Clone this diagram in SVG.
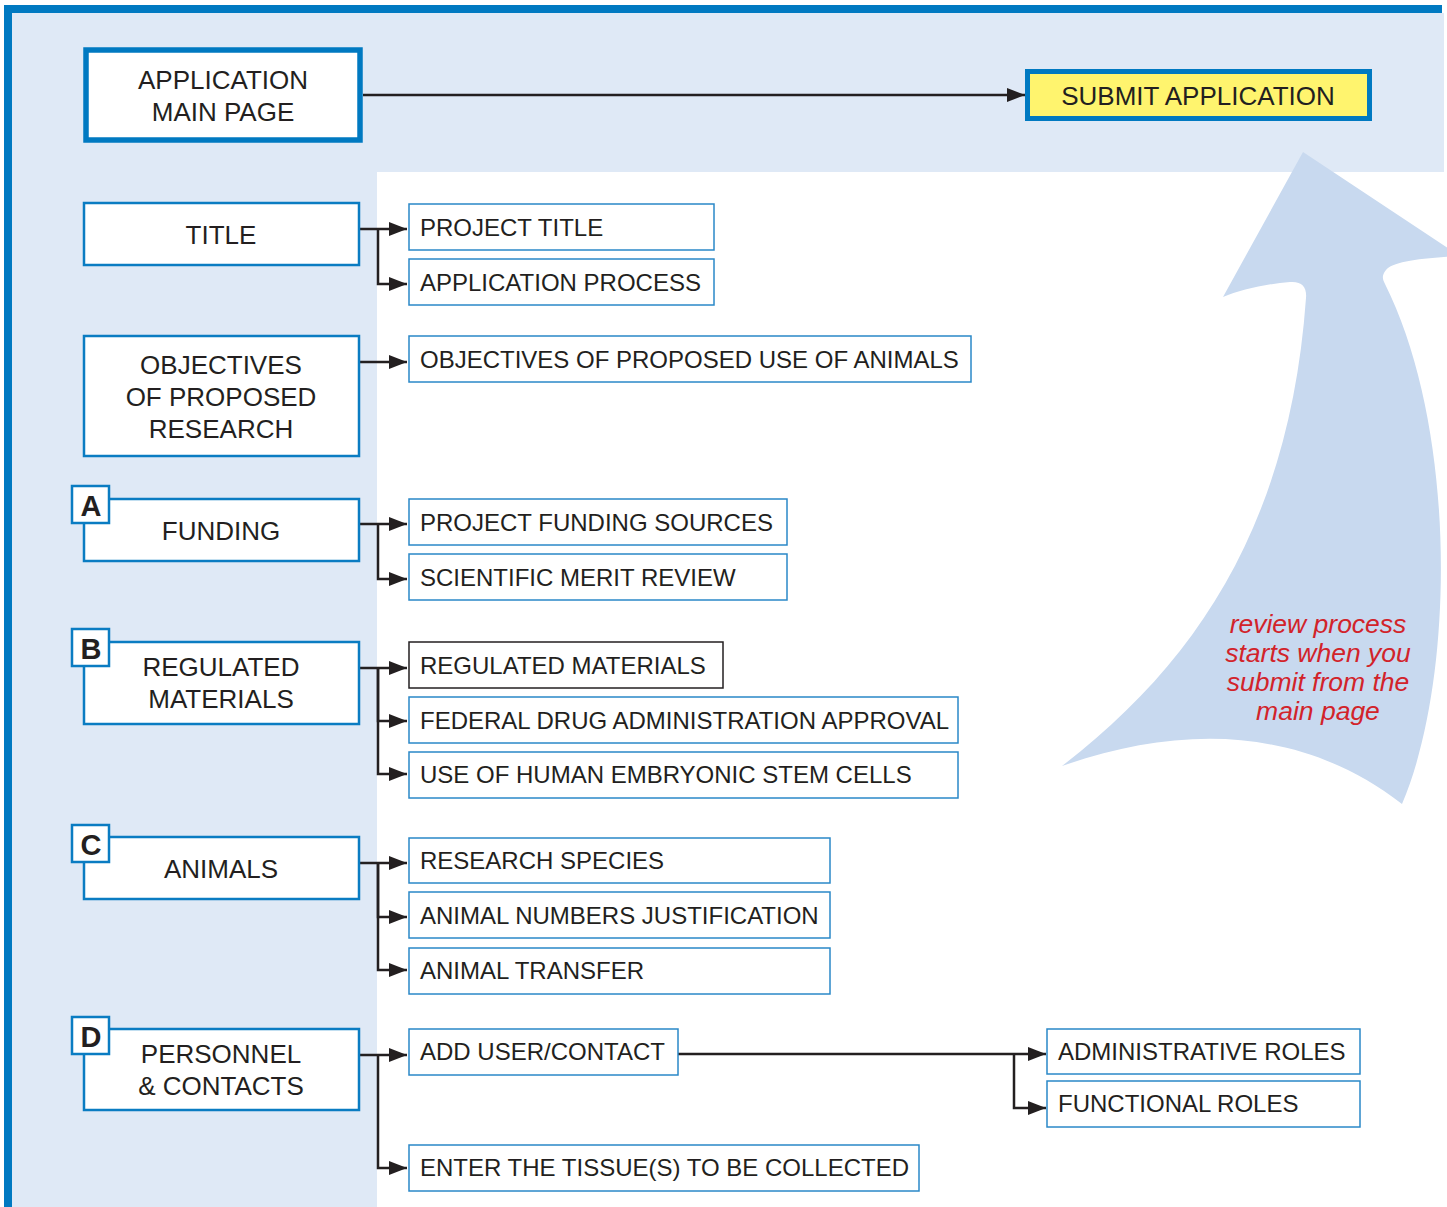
<svg xmlns="http://www.w3.org/2000/svg" width="1447" height="1207" viewBox="0 0 1447 1207">
<defs>
<style>
.lbox{fill:#fff;stroke:#0a7cc2;stroke-width:2.5}
.rbox{fill:#fff;stroke:#2a88c8;stroke-width:1.5}
.badge{fill:#fff;stroke:#0a7cc2;stroke-width:2.5}
.lt{font-family:"Liberation Sans",Arial,sans-serif;font-size:26px;fill:#231f20;text-anchor:middle}
.rt{font-family:"Liberation Sans",Arial,sans-serif;font-size:24px;fill:#231f20}
.bt{font-family:"Liberation Sans",Arial,sans-serif;font-size:29px;font-weight:bold;fill:#231f20;text-anchor:middle}
.note{font-family:"Liberation Sans",Arial,sans-serif;font-size:26.5px;font-style:italic;fill:#d2232a;text-anchor:middle}
.con{fill:none;stroke:#231f20;stroke-width:2.5;marker-end:url(#ah)}
</style>
<marker id="ah" viewBox="0 0 18 14" refX="18" refY="7" markerWidth="18" markerHeight="14" markerUnits="userSpaceOnUse" orient="auto">
<path d="M0,0 L18,7 L0,14 z" fill="#231f20"/>
</marker>
</defs>
<g id="background">
<rect x="0" y="0" width="1447" height="1207" fill="#fff"/>
<path d="M12 13 H1444 V172 H377 V1207 H12 Z" fill="#dfe9f6"/>
<rect x="4" y="5" width="8" height="1202" fill="#0079c1"/>
<rect x="4" y="5" width="1438" height="8" fill="#0079c1"/>
</g>
<g id="review-arrow">
<path d="M1303 152 L1460 256 C1420 258 1392 262 1386 270 C1381 276 1383 280 1385 284 C1458 430 1455 680 1402 804 C1300 725 1180 725 1062 766 C1200 660 1290 520 1306 298 C1307 287 1302 281 1290 282 C1265 284 1240 290 1223 297 Z" fill="#c8d9ef"/>
<text class="note" x="1318" y="633">review process</text>
<text class="note" x="1318" y="662">starts when you</text>
<text class="note" x="1318" y="691">submit from the</text>
<text class="note" x="1318" y="720">main page</text>
</g>
<g id="connectors">
<path class="con" d="M363 95 H1025"/>
<path class="con" d="M360 229 H407"/>
<path class="con" d="M378 229 V284 H407"/>
<path class="con" d="M360 362 H407"/>
<path class="con" d="M360 524 H407"/>
<path class="con" d="M378 524 V579 H407"/>
<path class="con" d="M360 668 H407"/>
<path class="con" d="M378 668 V721 H407"/>
<path class="con" d="M378 668 V774 H407"/>
<path class="con" d="M360 863 H407"/>
<path class="con" d="M378 863 V917 H407"/>
<path class="con" d="M378 863 V970 H407"/>
<path class="con" d="M360 1055 H407"/>
<path class="con" d="M378 1055 V1168 H407"/>
<path class="con" d="M678 1054 H1046"/>
<path class="con" d="M1014 1054 V1108 H1046"/>
</g>
<g id="main-page">
<rect x="86" y="50" width="274" height="90" fill="#fff" stroke="#0079c1" stroke-width="5.5"/>
<text class="lt" x="223" y="89">APPLICATION</text>
<text class="lt" x="223" y="121">MAIN PAGE</text>
</g>
<g id="submit">
<rect x="1027.5" y="71.5" width="342" height="47" fill="#fff46e" stroke="#0079c1" stroke-width="5"/>
<text class="lt" x="1198" y="104.5">SUBMIT APPLICATION</text>
</g>
<g id="title">
<rect class="lbox" x="84" y="203" width="275" height="62"/>
<text class="lt" x="221" y="244">TITLE</text>
</g>
<g id="objectives">
<rect class="lbox" x="84" y="336" width="275" height="120"/>
<text class="lt" x="221" y="374">OBJECTIVES</text>
<text class="lt" x="221" y="406">OF PROPOSED</text>
<text class="lt" x="221" y="438">RESEARCH</text>
</g>
<g id="funding">
<rect class="lbox" x="84" y="499" width="275" height="62"/>
<text class="lt" x="221" y="540">FUNDING</text>
<rect class="badge" x="72" y="486" width="37" height="37"/>
<text class="bt" x="91" y="515.5">A</text>
</g>
<g id="regulated">
<rect class="lbox" x="84" y="642" width="275" height="82"/>
<text class="lt" x="221" y="676">REGULATED</text>
<text class="lt" x="221" y="708">MATERIALS</text>
<rect class="badge" x="72" y="629" width="37" height="37"/>
<text class="bt" x="91" y="658.5">B</text>
</g>
<g id="animals">
<rect class="lbox" x="84" y="837" width="275" height="62"/>
<text class="lt" x="221" y="878">ANIMALS</text>
<rect class="badge" x="72" y="825" width="37" height="37"/>
<text class="bt" x="91" y="854.5">C</text>
</g>
<g id="personnel">
<rect class="lbox" x="84" y="1029" width="275" height="81"/>
<text class="lt" x="221" y="1063">PERSONNEL</text>
<text class="lt" x="221" y="1095">&amp; CONTACTS</text>
<rect class="badge" x="72" y="1017" width="37" height="37"/>
<text class="bt" x="91" y="1046.5">D</text>
</g>
<g id="project-title"><rect class="rbox" x="409" y="204" width="305" height="46"/><text class="rt" x="420" y="235.5">PROJECT TITLE</text></g>
<g id="application-process"><rect class="rbox" x="409" y="259" width="305" height="46"/><text class="rt" x="420" y="290.5">APPLICATION PROCESS</text></g>
<g id="objectives-use"><rect class="rbox" x="409" y="336" width="562" height="46"/><text class="rt" x="420" y="367.5">OBJECTIVES OF PROPOSED USE OF ANIMALS</text></g>
<g id="funding-sources"><rect class="rbox" x="409" y="499" width="378" height="46"/><text class="rt" x="420" y="530.5">PROJECT FUNDING SOURCES</text></g>
<g id="merit-review"><rect class="rbox" x="409" y="554" width="378" height="46"/><text class="rt" x="420" y="585.5">SCIENTIFIC MERIT REVIEW</text></g>
<g id="regulated-materials"><rect x="409" y="642" width="314" height="46" fill="#fff" stroke="#231f20" stroke-width="1.5"/><text class="rt" x="420" y="673.5">REGULATED MATERIALS</text></g>
<g id="fda"><rect class="rbox" x="409" y="697" width="549" height="46"/><text class="rt" x="420" y="728.5">FEDERAL DRUG ADMINISTRATION APPROVAL</text></g>
<g id="stem-cells"><rect class="rbox" x="409" y="752" width="549" height="46"/><text class="rt" x="420" y="782.5">USE OF HUMAN EMBRYONIC STEM CELLS</text></g>
<g id="species"><rect class="rbox" x="409" y="838" width="421" height="45"/><text class="rt" x="420" y="868.5">RESEARCH SPECIES</text></g>
<g id="numbers"><rect class="rbox" x="409" y="892" width="421" height="46"/><text class="rt" x="420" y="923.5">ANIMAL NUMBERS JUSTIFICATION</text></g>
<g id="transfer"><rect class="rbox" x="409" y="948" width="421" height="46"/><text class="rt" x="420" y="978.5">ANIMAL TRANSFER</text></g>
<g id="add-user"><rect class="rbox" x="409" y="1029" width="269" height="46"/><text class="rt" x="420" y="1059.5">ADD USER/CONTACT</text></g>
<g id="tissue"><rect class="rbox" x="409" y="1145" width="510" height="46"/><text class="rt" x="420" y="1175.5">ENTER THE TISSUE(S) TO BE COLLECTED</text></g>
<g id="admin-roles"><rect class="rbox" x="1047" y="1029" width="313" height="45"/><text class="rt" x="1058" y="1059.5">ADMINISTRATIVE ROLES</text></g>
<g id="functional-roles"><rect class="rbox" x="1047" y="1081" width="313" height="46"/><text class="rt" x="1058" y="1111.5">FUNCTIONAL ROLES</text></g>
</svg>
